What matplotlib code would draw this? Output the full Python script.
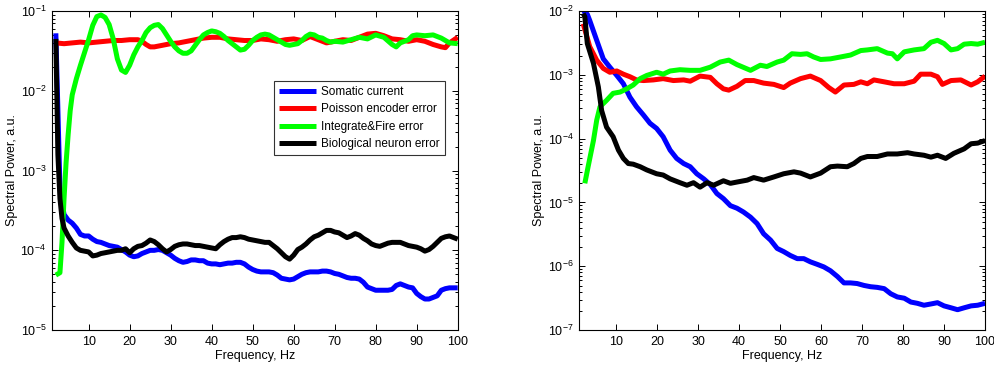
import matplotlib
matplotlib.use("Agg")
import matplotlib.pyplot as plt
import numpy as np
from matplotlib.ticker import LogLocator, NullFormatter, FixedLocator

plt.rcParams["font.family"] = ["Liberation Sans", "DejaVu Sans"]
plt.rcParams["mathtext.default"] = "regular"

# ---- left panel (log10 of spectral power) ----
left_somatic_f = [2, 3, 3.5, 4, 5, 6, 7, 8, 9, 10, 11, 12, 13, 14, 15, 16, 17, 18, 19, 20,
                  21, 22, 23, 24, 25, 26, 27, 28, 29, 30, 31, 32, 33, 34, 35, 36, 37, 38, 39, 40,
                  41, 42, 43, 44, 45, 46, 47, 48, 49, 50, 51, 52, 53, 54, 55, 56, 57, 58, 59, 60,
                  61, 62, 63, 64, 65, 66, 67, 68, 69, 70, 71, 72, 73, 74, 75, 76, 77, 78, 79, 80,
                  81, 82, 83, 84, 85, 86, 87, 88, 89, 90, 91, 92, 93, 94, 95, 96, 97, 98, 99, 100]
left_somatic_lp = [-1.28, -3.20, -3.40, -3.55, -3.62, -3.66, -3.72, -3.80, -3.82, -3.82,
                   -3.86, -3.89, -3.90, -3.92, -3.94, -3.95, -3.96, -3.99, -4.02, -4.06,
                   -4.08, -4.07, -4.04, -4.02, -4.00, -4.00, -3.99, -4.00, -4.03, -4.06,
                   -4.10, -4.13, -4.15, -4.14, -4.12, -4.12, -4.13, -4.13, -4.16, -4.17,
                   -4.17, -4.18, -4.17, -4.16, -4.16, -4.15, -4.15, -4.17, -4.21, -4.24,
                   -4.26, -4.27, -4.27, -4.27, -4.28, -4.31, -4.35, -4.36, -4.37, -4.36,
                   -4.33, -4.30, -4.28, -4.27, -4.27, -4.27, -4.26, -4.26, -4.27, -4.29,
                   -4.30, -4.32, -4.34, -4.35, -4.35, -4.36, -4.40, -4.46, -4.48, -4.50,
                   -4.50, -4.50, -4.50, -4.49, -4.44, -4.42, -4.44, -4.46, -4.47, -4.54,
                   -4.58, -4.61, -4.61, -4.59, -4.57, -4.50, -4.48, -4.47, -4.47, -4.47]

left_poisson_f = [2, 4, 6, 8, 10, 12, 14, 16, 18, 20, 22, 23, 24, 25, 26, 27, 28, 30, 32, 34,
                  36, 38, 40, 42, 44, 46, 48, 50, 52, 54, 56, 58, 60, 62, 64, 66, 68, 70, 72, 74,
                  76, 78, 80, 82, 84, 86, 88, 90, 92, 94, 96, 97, 98, 100]
left_poisson_lp = [-1.40, -1.41, -1.40, -1.39, -1.40, -1.39, -1.38, -1.37, -1.37, -1.36,
                   -1.36, -1.38, -1.42, -1.45, -1.45, -1.44, -1.43, -1.41, -1.40, -1.38,
                   -1.36, -1.34, -1.33, -1.33, -1.35, -1.36, -1.37, -1.37, -1.35, -1.36,
                   -1.38, -1.36, -1.35, -1.37, -1.32, -1.36, -1.40, -1.38, -1.36, -1.37,
                   -1.33, -1.29, -1.28, -1.31, -1.35, -1.36, -1.38, -1.36, -1.38, -1.42,
                   -1.45, -1.46, -1.40, -1.33]

left_if_f = [2, 3, 3.5, 4, 4.5, 5, 5.5, 6, 7, 8, 9, 10, 11, 12, 13, 14, 15, 16, 17, 18,
             19, 20, 21, 22, 23, 24, 25, 26, 27, 28, 29, 30, 31, 32, 33, 34, 35, 36, 37, 38,
             39, 40, 41, 42, 43, 44, 45, 46, 47, 48, 49, 50, 51, 52, 53, 54, 55, 56, 57, 58,
             59, 60, 61, 62, 63, 64, 65, 66, 67, 68, 69, 70, 72, 74, 76, 78, 80, 82, 84, 85,
             86, 88, 89, 90, 92, 94, 96, 98, 100]
left_if_lp = [-4.31, -4.28, -3.90, -3.35, -2.90, -2.55, -2.25, -2.05, -1.85, -1.68,
              -1.52, -1.36, -1.18, -1.07, -1.05, -1.08, -1.17, -1.35, -1.60, -1.74,
              -1.77, -1.68, -1.55, -1.45, -1.37, -1.27, -1.21, -1.18, -1.17, -1.22,
              -1.30, -1.38, -1.45, -1.50, -1.53, -1.53, -1.50, -1.43, -1.36, -1.30,
              -1.27, -1.25, -1.26, -1.28, -1.32, -1.37, -1.41, -1.45, -1.49, -1.48,
              -1.43, -1.37, -1.33, -1.30, -1.29, -1.30, -1.33, -1.36, -1.39, -1.42,
              -1.43, -1.42, -1.41, -1.37, -1.32, -1.29, -1.30, -1.33, -1.34, -1.37,
              -1.39, -1.38, -1.39, -1.36, -1.33, -1.35, -1.30, -1.33, -1.42, -1.45,
              -1.40, -1.36, -1.31, -1.30, -1.31, -1.30, -1.34, -1.40, -1.41]

left_bio_f = [2, 2.5, 3, 3.5, 4, 5, 6, 7, 8, 9, 10, 11, 12, 13, 14, 15, 16, 17, 18, 19,
              20, 21, 22, 23, 24, 25, 26, 27, 28, 29, 30, 31, 32, 33, 34, 35, 36, 37, 38, 39,
              40, 41, 42, 43, 44, 45, 46, 47, 48, 49, 50, 51, 52, 53, 54, 55, 56, 57, 58, 59,
              60, 61, 62, 63, 64, 65, 66, 67, 68, 69, 70, 71, 72, 73, 74, 75, 76, 77, 78, 79,
              80, 81, 82, 83, 84, 85, 86, 87, 88, 89, 90, 91, 92, 93, 94, 95, 96, 97, 98, 99, 100]
left_bio_lp = [-1.35, -2.80, -3.35, -3.60, -3.72, -3.82, -3.90, -3.97, -4.00, -4.01,
               -4.02, -4.07, -4.06, -4.04, -4.03, -4.02, -4.01, -4.00, -4.00, -3.98,
               -4.03, -3.98, -3.95, -3.94, -3.91, -3.87, -3.89, -3.93, -3.98, -4.02,
               -3.99, -3.95, -3.93, -3.92, -3.92, -3.93, -3.94, -3.94, -3.95, -3.96,
               -3.97, -3.98, -3.93, -3.89, -3.86, -3.84, -3.84, -3.83, -3.84, -3.86,
               -3.87, -3.88, -3.89, -3.90, -3.90, -3.94, -3.98, -4.03, -4.08, -4.11,
               -4.06, -3.99, -3.96, -3.92, -3.87, -3.83, -3.81, -3.78, -3.75, -3.75,
               -3.77, -3.78, -3.81, -3.84, -3.82, -3.79, -3.81, -3.85, -3.88, -3.92,
               -3.94, -3.95, -3.93, -3.91, -3.90, -3.90, -3.90, -3.92, -3.94, -3.95,
               -3.96, -3.98, -4.01, -3.99, -3.95, -3.90, -3.85, -3.83, -3.82, -3.84, -3.86]

# ---- right panel ----
right_somatic_f = [2, 3, 3.6, 5.3, 6.9, 8.5, 10.2, 11.8, 13.4, 15, 16.7, 18.3, 19.9, 21.5,
                   23.2, 24.8, 26.5, 28.1, 29.7, 31.4, 33, 34.6, 36.2, 37.9, 39.5, 41.1,
                   42.8, 44.4, 46, 47.7, 49.3, 50.9, 52.5, 54.2, 55.8, 57.4, 59.1, 60.7,
                   62.3, 64, 65.6, 67.2, 68.8, 70.5, 72.1, 73.7, 75.4, 77, 78.6, 80.3, 81.9,
                   83.5, 85.1, 86.8, 88.4, 90, 91.7, 93.3, 94.9, 96.6, 98.2, 100]
right_somatic_lp = [-2.00, -2.05, -2.15, -2.46, -2.75, -2.88, -3.01, -3.14, -3.35, -3.50,
                    -3.63, -3.76, -3.84, -3.97, -4.18, -4.31, -4.39, -4.44, -4.55, -4.63,
                    -4.72, -4.86, -4.94, -5.05, -5.09, -5.15, -5.23, -5.33, -5.49, -5.59,
                    -5.72, -5.77, -5.83, -5.88, -5.88, -5.93, -5.97, -6.01, -6.07, -6.16,
                    -6.26, -6.26, -6.27, -6.30, -6.32, -6.33, -6.35, -6.43, -6.48, -6.50,
                    -6.56, -6.58, -6.61, -6.59, -6.57, -6.62, -6.65, -6.68, -6.65, -6.62,
                    -6.61, -6.58]

right_poisson_f = [2, 3.6, 5.3, 6.9, 8.5, 10.2, 11.8, 13.4, 15, 16.7, 19.1, 21.5, 24, 26.5,
                   28.1, 30.5, 33, 34.6, 36.2, 37.5, 39.5, 41.5, 43.6, 46, 48.5, 50.9, 52.5,
                   55, 57.4, 59.9, 61.9, 63.5, 65.6, 68, 69.7, 71.3, 72.9, 75.4, 77.8, 80.3,
                   82.7, 84.3, 86.8, 88.4, 89.6, 91.7, 94.1, 96.6, 98.2, 100]
right_poisson_lp = [-2.20, -2.56, -2.77, -2.90, -2.96, -2.94, -2.99, -3.03, -3.08, -3.09,
                    -3.08, -3.06, -3.09, -3.08, -3.10, -3.02, -3.04, -3.14, -3.22, -3.24,
                    -3.18, -3.09, -3.09, -3.13, -3.15, -3.20, -3.13, -3.06, -3.02, -3.09,
                    -3.20, -3.27, -3.16, -3.15, -3.11, -3.14, -3.08, -3.11, -3.14, -3.14,
                    -3.10, -2.99, -2.99, -3.03, -3.15, -3.09, -3.08, -3.16, -3.11, -3.02]

right_if_f = [2.4, 3.2, 4.5, 5.3, 6.1, 7.7, 9.3, 11, 12.6, 14.2, 15.9, 17.5, 19.9, 21.5,
              23.2, 25.6, 28.1, 30.5, 33, 35.4, 37.5, 39.5, 42.8, 45.2, 46.8, 49.3, 50.9,
              52.9, 55, 56.6, 58.2, 59.9, 62.3, 64.8, 67.2, 69.7, 71.3, 73.7, 76.2, 77.4,
              78.6, 80.3, 82.7, 85.1, 86.8, 88.4, 90, 91.7, 93.3, 94.9, 96.6, 98.2, 100]
right_if_lp = [-4.70, -4.44, -4.03, -3.71, -3.50, -3.40, -3.29, -3.27, -3.22, -3.16,
               -3.06, -3.01, -2.96, -2.99, -2.94, -2.92, -2.93, -2.93, -2.88, -2.80,
               -2.77, -2.84, -2.93, -2.85, -2.87, -2.80, -2.77, -2.67, -2.68, -2.67,
               -2.72, -2.76, -2.75, -2.72, -2.69, -2.62, -2.61, -2.59, -2.66, -2.67,
               -2.75, -2.64, -2.61, -2.59, -2.49, -2.46, -2.51, -2.61, -2.59, -2.52,
               -2.51, -2.52, -2.49]

right_bio_f = [2, 2.4, 3, 4.5, 5.7, 6.5, 7.7, 9.3, 10.6, 11.8, 13, 14.2, 15.9, 17.5, 19.9,
               21.5, 23.2, 25.6, 27.3, 28.9, 30.5, 32.2, 33.8, 36.2, 37.9, 39.5, 42, 43.6,
               46, 48.5, 50.9, 53.4, 55, 57.4, 59.9, 62.3, 64, 66.4, 68, 69.7, 71.3, 73.7,
               76.2, 78.6, 81.1, 82.7, 85.1, 86.8, 88.4, 90.4, 92.4, 94.9, 96.6, 98.2, 100]
right_bio_lp = [-2.04, -2.09, -2.51, -2.82, -3.19, -3.56, -3.82, -3.97, -4.18, -4.31,
                -4.39, -4.40, -4.44, -4.49, -4.55, -4.57, -4.63, -4.69, -4.73, -4.69,
                -4.76, -4.69, -4.73, -4.66, -4.70, -4.68, -4.65, -4.61, -4.65, -4.60,
                -4.55, -4.52, -4.54, -4.60, -4.54, -4.44, -4.43, -4.44, -4.39, -4.31,
                -4.28, -4.28, -4.24, -4.24, -4.22, -4.24, -4.26, -4.29, -4.26, -4.31,
                -4.23, -4.16, -4.08, -4.07, -4.03]

labels = ["Somatic current", "Poisson encoder error", "Integrate&Fire error",
          "Biological neuron error"]
colors = ["#0000ff", "#ff0000", "#00ff00", "#000000"]

left_series = [(left_somatic_f, left_somatic_lp), (left_poisson_f, left_poisson_lp),
               (left_if_f, left_if_lp), (left_bio_f, left_bio_lp)]
right_series = [(right_somatic_f, right_somatic_lp), (right_poisson_f, right_poisson_lp),
                (right_if_f, right_if_lp), (right_bio_f, right_bio_lp)]

fig = plt.figure(figsize=(9.95, 3.66), dpi=100)
ax_l = fig.add_axes([0.052, 0.098, 0.408, 0.872])
ax_r = fig.add_axes([0.582, 0.098, 0.408, 0.872])


def style_axis(ax, ylim):
    ax.set_yscale("log")
    ax.set_xlim(1, 100)
    ax.set_ylim(*ylim)
    ax.xaxis.set_major_locator(FixedLocator([10, 20, 30, 40, 50, 60, 70, 80, 90, 100]))
    ax.yaxis.set_major_locator(LogLocator(base=10, numticks=12))
    ax.yaxis.set_minor_locator(LogLocator(base=10, subs=np.arange(2, 10), numticks=12))
    ax.yaxis.set_minor_formatter(NullFormatter())
    ax.tick_params(which="both", direction="in", top=True, right=True,
                   labelsize=9, color="black", width=0.7)
    ax.tick_params(which="major", length=4, pad=4)
    ax.tick_params(which="minor", length=2)
    for sp in ax.spines.values():
        sp.set_linewidth(0.8)
    ax.set_xlabel("Frequency, Hz", fontsize=9, labelpad=2)
    ax.set_ylabel("Spectral Power, a.u.", fontsize=9, labelpad=2)


lines = []
for (f, lp), c, lab in zip(left_series, colors, labels):
    ln, = ax_l.plot(f, 10 ** np.array(lp), color=c, lw=3.6, label=lab,
                    solid_joinstyle="round", solid_capstyle="butt")
    lines.append(ln)
for (f, lp), c in zip(right_series, colors):
    ax_r.plot(f, 10 ** np.array(lp), color=c, lw=3.6, solid_joinstyle="round",
              solid_capstyle="butt")

style_axis(ax_l, (1e-5, 1e-1))
style_axis(ax_r, (1e-7, 1e-2))

leg = ax_l.legend(lines, labels, loc="upper right", bbox_to_anchor=(0.968, 0.781),
                  fontsize=8.5, frameon=True, fancybox=False, handlelength=3.1,
                  handletextpad=0.42, borderpad=0.45, labelspacing=0.45, borderaxespad=0)
leg.get_frame().set_edgecolor("black")
leg.get_frame().set_linewidth(0.8)

fig.savefig("out.png", dpi=100)
